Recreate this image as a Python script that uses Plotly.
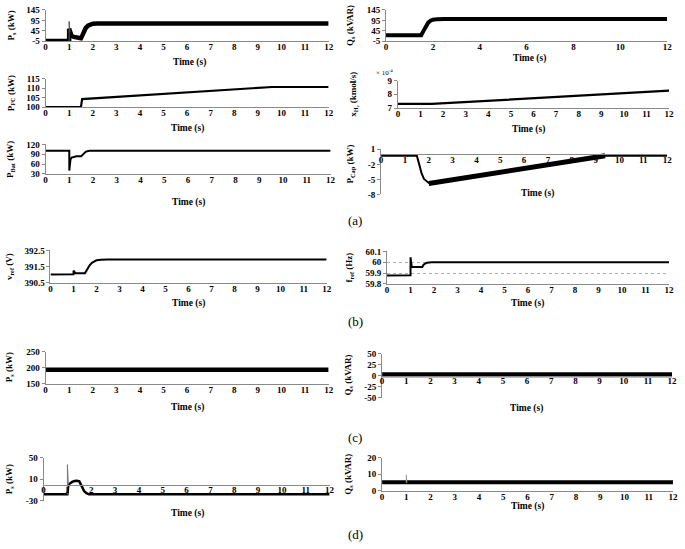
import plotly.graph_objects as go

W, H = 685, 549


def xp(px):
    return px / W


def yp(py):
    return 1 - py / H


# ---------------- data ----------------
# (a) Ps
t_ps_a = [0, 1.0, 1.0, 1.03, 1.06, 1.1, 1.2, 1.3, 1.4, 1.5, 1.55, 1.6, 1.7, 1.8, 1.9, 2.0, 2.2, 2.5, 12]
ps_a = [-3, -3, 55, 38, 28, 22, 16, 13, 11, 10, 20, 38, 58, 70, 76, 79, 80, 80, 80]
t_ps_a_spike = [1.0, 1.0, 1.03]
ps_a_spike = [-3, 90, 38]
# (a) Qs
t_qs_a = [0, 1.5, 1.6, 1.7, 1.8, 1.9, 2.0, 2.2, 2.5, 12]
qs_a = [24, 24, 45, 68, 84, 93, 98, 101, 102, 102]
# (a) P_FC
t_pfc = [0, 1.5, 1.55, 9.6, 12]
pfc = [100, 100, 104.2, 110.6, 110.6]
# (a) x_H2 (x 1e-4)
t_xh2 = [0, 1.5, 12]
xh2 = [7.3, 7.3, 8.27]
# (a) P_Bat
t_bat = [0, 1.0, 1.0, 1.02, 1.05, 1.1, 1.2, 1.3, 1.5, 1.6, 1.7, 1.8, 1.9, 12]
p_bat = [101, 101, 40, 62, 74, 80, 83, 84, 84, 92, 98, 100, 101, 101]
# (a) P_Cap
t_cap = [0, 1.5, 1.6, 1.7, 1.8, 1.9, 2.0, 2.1, 2.2, 9.4, 9.5, 12]
p_cap = [-0.3, -0.3, -2.0, -3.8, -4.9, -5.4, -5.7, -5.8, -5.8, -0.3, -0.3, -0.3]
t_cap_ramp = [2.0, 9.4]
p_cap_ramp = [-5.8, -0.3]
# (b) v_ref
t_v = [0, 1.0, 1.0, 1.03, 1.08, 1.5, 1.6, 1.7, 1.8, 1.9, 2.0, 2.2, 2.5, 12]
v_ref = [391.02, 391.03, 391.25, 391.15, 391.1, 391.1, 391.35, 391.58, 391.74, 391.84, 391.89, 391.93, 391.94, 391.94]
# (b) f_ref
t_f = [0, 1.0, 1.0, 1.02, 1.05, 1.1, 1.5, 1.55, 1.6, 1.7, 1.8, 1.9, 12]
f_ref = [59.878, 59.88, 60.045, 60.0, 59.96, 59.955, 59.955, 59.975, 59.985, 59.995, 59.999, 60.0, 60.0]
# (c) Ps, Qs
t_c = [0, 12]
ps_c = [194, 194]
qs_c = [2, 2]
# (d) Ps
t_ps_d = [0, 1.0, 1.04, 1.1, 1.2, 1.3, 1.4, 1.5, 1.6, 1.7, 1.8, 1.9, 12]
ps_d = [-18, -18, 0, 2, 5, 6.5, 7, 6, -4, -12, -16, -18, -18]
t_ps_d_spike = [1.0, 1.0, 1.04]
ps_d_spike = [-18, 37, 0]
# (d) Qs
t_qs_d = [0, 12]
qs_d = [5.2, 5.2]
t_qs_d_spike = [1.0, 1.0, 1.02]
qs_d_spike = [5, 9.5, 5]

ytitles = ["P<sub>s</sub> (kW)", "Q<sub>s</sub> (kVAR)", "P<sub>FC</sub> (kW)",
           "x<sub>H₂</sub> (kmol/s)", "P<sub>Bat</sub> (kW)", "P<sub>Cap</sub> (kW)",
           "v<sub>ref</sub> (V)", "f<sub>ref</sub> (Hz)", "P<sub>s</sub> (kW)",
           "Q<sub>s</sub> (kVAR)", "P<sub>s</sub> (kW)", "Q<sub>s</sub> (kVAR)"]
yticks = [[-5, 45, 95, 145], [-5, 45, 95, 145], [100, 105, 110, 115], [7, 8, 9],
          [30, 60, 90, 120], [-8, -5, -2, 1], [390.5, 391.5, 392.5], [59.8, 59.9, 60, 60.1],
          [150, 200, 250], [-50, -25, 0, 25, 50], [-30, 10, 50], [0, 10, 20]]
ytick_text = [["-5", "45", "95", "145"], ["-5", "45", "95", "145"], ["100", "105", "110", "115"],
              ["7", "8", "9"], ["30", "60", "90", "120"], ["-8", "-5", "-2", "1"],
              ["390.5", "391.5", "392.5"], ["59.8", "59.9", "60", "60.1"],
              ["150", "200", "250"], ["-50", "-25", "0", "25", "50"], ["-30", "10", "50"],
              ["0", "10", "20"]]
panel_labels = ["(a)", "(b)", "(c)", "(d)"]

# ---------------- layout config (page pixel boxes) ----------------
FONT = "Liberation Serif"
# left, right, top, bottom (px), y-range, x-dtick, x-axis crossing value (None = bottom)
P = [
    (44, 330, 5, 37, [-5, 145], 1, None),
    (388, 672, 5, 37, [-5, 145], 2, None),
    (44, 330, 75, 104, [100, 115], 1, None),
    (400, 674, 77, 105, [7, 9], 1, None),
    (44, 332, 142, 172, [30, 120], 1, None),
    (383, 672, 147, 193, [-8, 1], 1, 0),
    (49, 328, 250, 283, [390.5, 392.5], 1, None),
    (389, 674, 251, 284, [59.8, 60.1], 1, None),
    (44, 330, 353, 386, [150, 250], 1, None),
    (384, 677, 355, 400, [-50, 50], 1, 0),
    (42, 331, 461, 505, [-30, 50], 1, 0),
    (384, 678, 461, 495, [0, 20], 1, None),
]
ytitle_pos = [(10, 21), (352, 21), (9, 90), (355, 91), (8, 157), (352, 162),
              (7, 266), (351, 267), (7, 369), (350, 377), (7, 483), (350, 478)]
time_pos = [(189, 59), (533, 54), (187, 126), (532, 127), (188, 201), (541, 192),
            (188, 304), (531, 304), (187, 410), (530, 411), (187, 518), (531, 511)]
label_pos = [(357, 220), (357, 322), (357, 441), (357, 539)]

fig = go.Figure()

series = [
    [(t_ps_a, ps_a, 4.5, "black"), (t_ps_a_spike, ps_a_spike, 1, "#555")],
    [(t_qs_a, qs_a, 4, "black")],
    [(t_pfc, pfc, 2.2, "black")],
    [(t_xh2, xh2, 2.2, "black")],
    [(t_bat, p_bat, 2, "black")],
    [(t_cap, p_cap, 2, "black"), (t_cap_ramp, p_cap_ramp, 5, "black")],
    [(t_v, v_ref, 2, "black")],
    [(t_f, f_ref, 2, "black")],
    [(t_c, ps_c, 4.5, "black")],
    [(t_c, qs_c, 5, "black")],
    [(t_ps_d, ps_d, 2.5, "black"), (t_ps_d_spike, ps_d_spike, 1, "#777")],
    [(t_qs_d, qs_d, 4, "black"), (t_qs_d_spike, qs_d_spike, 1, "#999")],
]

tickfont = dict(family=FONT, size=9, color="black", weight="bold")
annos = []
for i, (l, r, tp, bt, yr, dt, cross) in enumerate(P):
    n = "" if i == 0 else str(i + 1)
    xd = [xp(l), xp(r)]
    yd = [yp(bt), yp(tp)]
    for (tx, ty, w, c) in series[i]:
        fig.add_trace(go.Scatter(x=tx, y=ty, mode="lines", line=dict(color=c, width=w),
                                 xaxis="x" + n, yaxis="y" + n, showlegend=False,
                                 hoverinfo="skip"))
    xa = dict(domain=xd, range=[0, 12], dtick=dt, tick0=0, showline=True,
              linecolor="#8a8a8a", linewidth=1, ticks="", showgrid=False, zeroline=False,
              tickfont=tickfont, ticklabeloverflow="allow", ticklabelstandoff=-3,
              layer="above traces")
    if cross is None:
        xa["anchor"] = "y" + n
    else:
        pos = yd[0] + (cross - yr[0]) / (yr[1] - yr[0]) * (yd[1] - yd[0])
        xa["anchor"] = "free"
        xa["position"] = pos
    ya = dict(domain=yd, range=yr, anchor="x" + n, tickvals=yticks[i], ticktext=ytick_text[i],
              showline=True, linecolor="#8a8a8a", linewidth=1, ticks="outside", ticklen=3,
              tickcolor="#8a8a8a", showgrid=False, zeroline=False, tickfont=tickfont,
              ticklabeloverflow="allow")
    if i == 7:
        ya.update(showgrid=True, gridcolor="#b0b0b0", griddash="dot", gridwidth=1)
    fig.layout["xaxis" + n] = xa
    fig.layout["yaxis" + n] = ya

    yx, yy = ytitle_pos[i]
    annos.append(dict(x=xp(yx), y=yp(yy), xref="paper", yref="paper", text=ytitles[i],
                      textangle=-90, showarrow=False, xanchor="center", yanchor="middle",
                      font=dict(family=FONT, size=9, color="black", weight="bold")))
    tx_, ty_ = time_pos[i]
    annos.append(dict(x=xp(tx_), y=yp(ty_), xref="paper", yref="paper", text="Time (s)",
                      showarrow=False, xanchor="center", yanchor="middle",
                      font=dict(family=FONT, size=9.5, color="black", weight="bold")))

annos.append(dict(x=xp(376), y=yp(69), xref="paper", yref="paper", text="× 10<sup>-4</sup>",
                  showarrow=False, xanchor="left", yanchor="middle",
                  font=dict(family=FONT, size=7, color="black")))
for lab, (lx, ly) in zip(panel_labels, label_pos):
    annos.append(dict(x=xp(lx), y=yp(ly), xref="paper", yref="paper", text=lab,
                      showarrow=False, xanchor="center", yanchor="middle",
                      font=dict(family=FONT, size=13, color="black")))

fig.update_layout(width=W, height=H, margin=dict(l=0, r=0, t=0, b=0),
                  plot_bgcolor="white", paper_bgcolor="white", annotations=annos,
                  showlegend=False)
fig.write_html("out.html", config={"displayModeBar": False},
               post_script="document.body.style.margin='0';")
